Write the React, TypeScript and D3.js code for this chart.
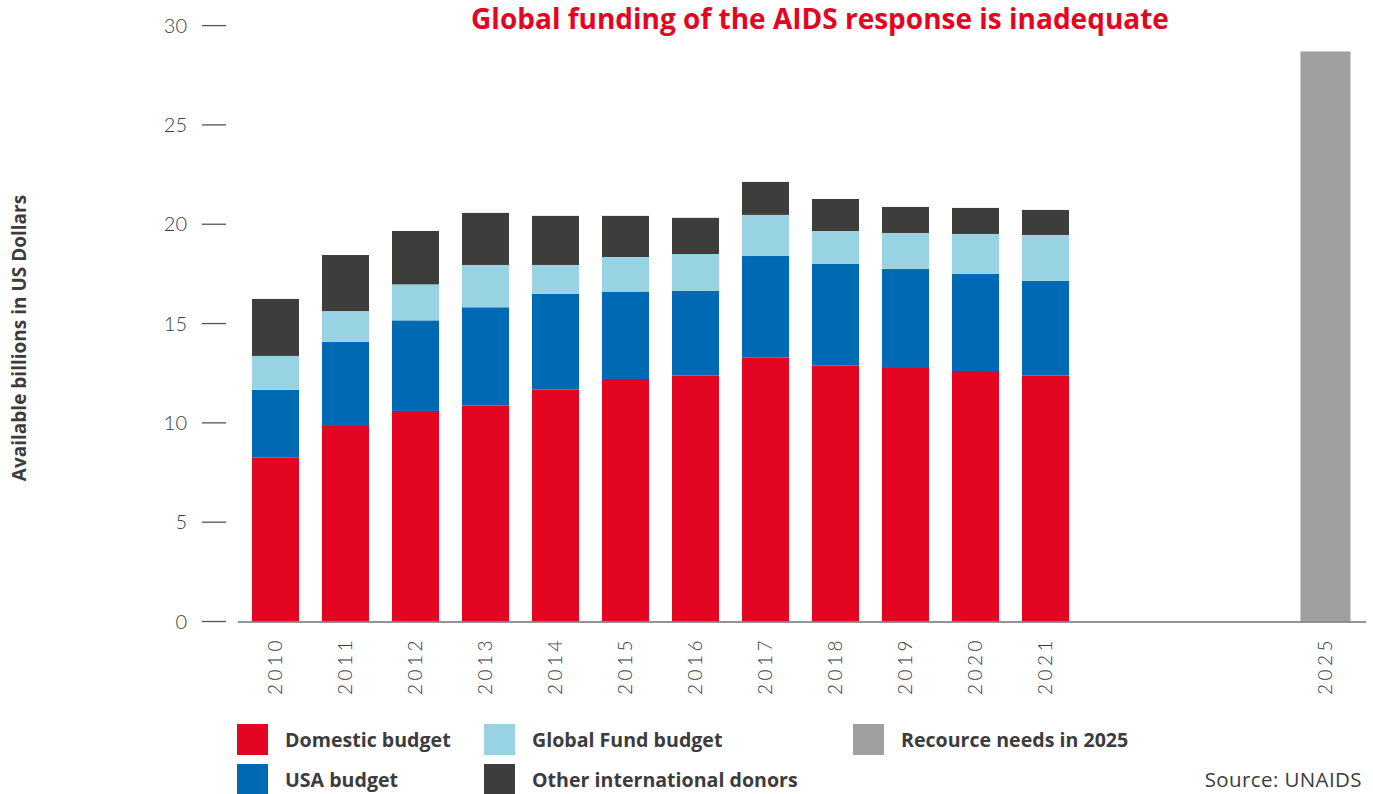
import React from 'react';
import * as d3 from 'd3';

const years = ['2010', '2011', '2012', '2013', '2014', '2015', '2016', '2017', '2018', '2019', '2020', '2021'];
const domestic = [8.25, 9.89, 10.6, 10.87, 11.67, 12.21, 12.38, 13.28, 12.88, 12.81, 12.61, 12.38];
const usa = [3.41, 4.18, 4.56, 4.95, 4.82, 4.4, 4.26, 5.12, 5.12, 4.94, 4.89, 4.77];
const globalFund = [1.71, 1.56, 1.81, 2.13, 1.46, 1.74, 1.86, 2.07, 1.66, 1.81, 2.01, 2.31];
const otherDonors = [2.87, 2.82, 2.69, 2.62, 2.47, 2.07, 1.82, 1.66, 1.61, 1.31, 1.31, 1.26];
const needsYear = '2025';
const needsValue = 28.7;
const yTicks = [0, 5, 10, 15, 20, 25, 30];
const seriesNames = ['Domestic budget', 'USA budget', 'Global Fund budget', 'Other international donors'];

const COLORS: Record<string, string> = {
  domestic: '#E30521',
  usa: '#0069B4',
  globalFund: '#98D3E3',
  other: '#3D3D3C',
  needs: '#A0A0A0',
};
const TEXT = '#3C3C3C';
const FONT = '"Open Sans", Lato, sans-serif';
const LIGHT_FONT = 'Lato, "Open Sans", sans-serif';

export default function App() {
  React.useEffect(() => {
    document.body.style.margin = '0';
    document.body.style.overflow = 'hidden';
  }, []);

  const x = d3.scaleLinear().domain([2010, 2025]).range([275.5, 1325.5]);
  const y = d3.scaleLinear().domain([0, 30]).range([621.5, 25.6]);

  const rows = years.map((yr, i) => ({
    year: yr,
    domestic: domestic[i],
    usa: usa[i],
    globalFund: globalFund[i],
    other: otherDonors[i],
  }));
  const keys = ['domestic', 'usa', 'globalFund', 'other'];
  const stacked = d3.stack<any>().keys(keys)(rows);
  const barW = 47;
  const needsW = 50;

  const allYears = [...years, needsYear];

  const legend = [
    { label: seriesNames[0], color: COLORS.domestic, x: 237, y: 724 },
    { label: seriesNames[2], color: COLORS.globalFund, x: 484, y: 724 },
    { label: 'Recource needs in 2025', color: COLORS.needs, x: 853, y: 724 },
    { label: seriesNames[1], color: COLORS.usa, x: 237, y: 764 },
    { label: seriesNames[3], color: COLORS.other, x: 484, y: 764 },
  ];

  return (
    <svg width={1373} height={794} style={{ position: 'absolute', left: 0, top: 0, background: '#fff' }} fontFamily={FONT}>
      <rect x={0} y={0} width={1373} height={794} fill="#fff" />
      {/* title */}
      <text x={820} y={29} textAnchor="middle" fontSize={28} fontWeight={700} fill="#E30521">
        Global funding of the AIDS response is inadequate
      </text>

      {/* y axis title */}
      <text transform="translate(26,338) rotate(-90)" textAnchor="middle" fontSize={19} fontWeight={700} fill={TEXT}>
        Available billions in US Dollars
      </text>

      {/* y ticks */}
      {yTicks.map((t) => (
        <g key={t}>
          <line x1={202} x2={226} y1={y(t)} y2={y(t)} stroke="#555" strokeWidth={1.3} />
          <text x={187} y={y(t)} dy="0.36em" textAnchor="end" fontSize={20} fontWeight={300} fontFamily={LIGHT_FONT} fill={TEXT}>
            {t}
          </text>
        </g>
      ))}

      {/* bars */}
      {stacked.map((layer) => (
        <g key={layer.key} fill={COLORS[layer.key as string]}>
          {layer.map((d, i) => (
            <rect
              key={i}
              x={x(+years[i]) - barW / 2}
              width={barW}
              y={y(d[1])}
              height={y(d[0]) - y(d[1])}
            />
          ))}
        </g>
      ))}
      <rect
        x={x(+needsYear) - needsW / 2}
        width={needsW}
        y={y(needsValue)}
        height={y(0) - y(needsValue)}
        fill={COLORS.needs}
      />

      {/* x axis */}
      <line x1={238} x2={1366} y1={y(0) + 0.5} y2={y(0) + 0.5} stroke="#707070" strokeWidth={1.5} />
      {allYears.map((yr) => (
        <text
          key={yr}
          transform={`translate(${x(+yr)},637) rotate(-90)`}
          textAnchor="end"
          dy="0.36em"
          fontSize={19}
          fontWeight={300}
          fontFamily={LIGHT_FONT}
          letterSpacing={3.5}
          fill={TEXT}
        >
          {yr}
        </text>
      ))}

      {/* legend */}
      {legend.map((l) => (
        <g key={l.label}>
          <rect x={l.x} y={l.y} width={31} height={31} fill={l.color} />
          <text x={l.x + 48} y={l.y + 15.5} dy="0.36em" fontSize={19.6} fontWeight={700} fill={TEXT}>
            {l.label}
          </text>
        </g>
      ))}
      <text x={1362} y={779.5} dy="0.36em" textAnchor="end" fontSize={20.5} fontWeight={400} letterSpacing={0.4} fill={TEXT}>
        Source: UNAIDS
      </text>
    </svg>
  );
}
